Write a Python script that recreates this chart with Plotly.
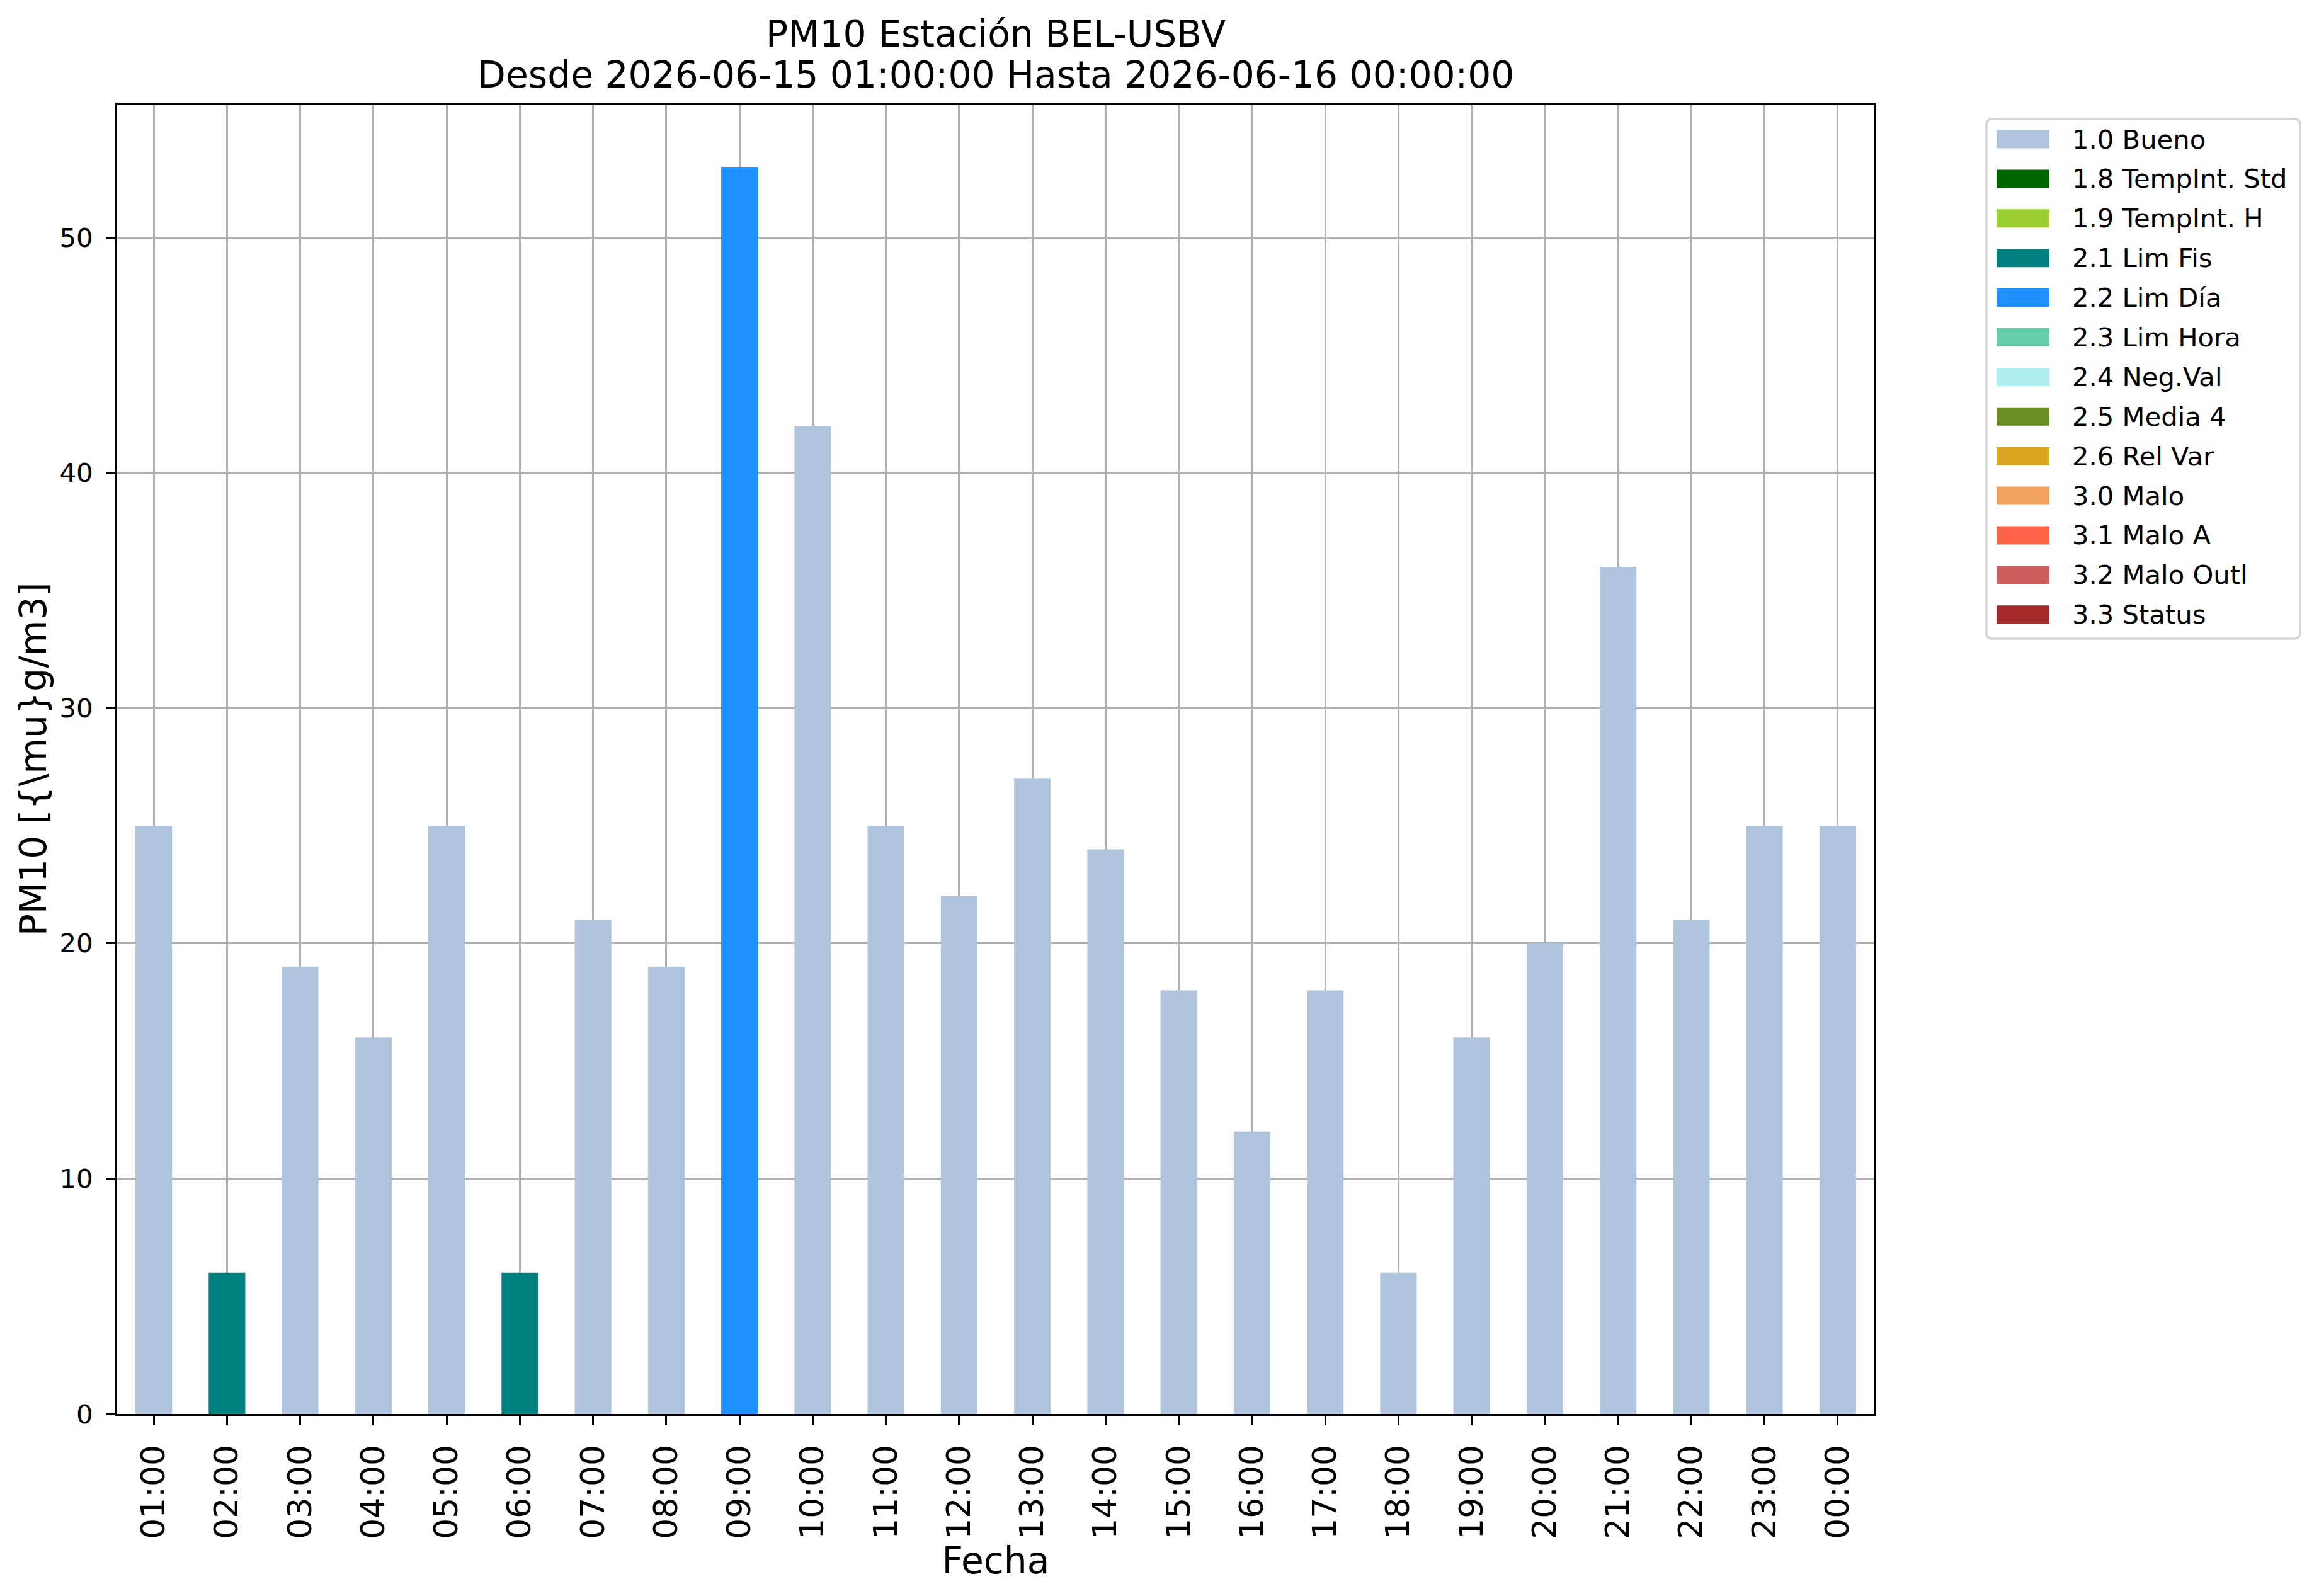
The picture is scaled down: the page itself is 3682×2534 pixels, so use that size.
import plotly.graph_objects as go

# datos
horas = ["01:00", "02:00", "03:00", "04:00", "05:00", "06:00", "07:00", "08:00",
         "09:00", "10:00", "11:00", "12:00", "13:00", "14:00", "15:00", "16:00",
         "17:00", "18:00", "19:00", "20:00", "21:00", "22:00", "23:00", "00:00"]
pm10 = [25, 6, 19, 16, 25, 6, 21, 19, 53, 42, 25, 22, 27, 24, 18, 12,
        18, 6, 16, 20, 36, 21, 25, 25]
flag = ["1.0 Bueno", "2.1 Lim Fis", "1.0 Bueno", "1.0 Bueno", "1.0 Bueno", "2.1 Lim Fis",
        "1.0 Bueno", "1.0 Bueno", "2.2 Lim Día", "1.0 Bueno", "1.0 Bueno", "1.0 Bueno",
        "1.0 Bueno", "1.0 Bueno", "1.0 Bueno", "1.0 Bueno", "1.0 Bueno", "1.0 Bueno",
        "1.0 Bueno", "1.0 Bueno", "1.0 Bueno", "1.0 Bueno", "1.0 Bueno", "1.0 Bueno"]

categorias = ["1.0 Bueno", "1.8 TempInt. Std", "1.9 TempInt. H", "2.1 Lim Fis",
              "2.2 Lim Día", "2.3 Lim Hora", "2.4 Neg.Val", "2.5 Media 4",
              "2.6 Rel Var", "3.0 Malo", "3.1 Malo A", "3.2 Malo Outl", "3.3 Status"]
colores = ["#B0C4DE", "#006400", "#9ACD32", "#008080", "#1E90FF", "#66CDAA",
           "#AFEEEE", "#6B8E23", "#DAA520", "#F4A460", "#FF6347", "#CD5C5C", "#A52A2A"]

titulo1 = "PM10 Estación BEL-USBV"
titulo2 = "Desde 2026-06-15 01:00:00 Hasta 2026-06-16 00:00:00"

FONT = "DejaVu Sans"
W, H = 3682, 2534
OFF = 8  # margen por defecto del body del html
# caja de los ejes en pixeles (de la pantalla)
L, R, T, B = 186.2, 2976, 166, 2245


def px_x(p):
    return (p - L) / (R - L)


def px_y(p):
    return (B - p) / (B - T)


fig = go.Figure()

for cat, col in zip(categorias, colores):
    vals = [v if f == cat else None for v, f in zip(pm10, flag)]
    fig.add_trace(go.Bar(x=horas, y=vals, name=cat, marker_color=col,
                         marker_line_width=0, width=0.5, showlegend=False))

shapes = []
annotations = []

# leyenda dibujada a mano (estilo matplotlib)
lx0, lx1, ly0, ly1, rad = 3154, 3652, 189, 1014, 9
rx, ry = rad / (R - L), rad / (B - T)
x0, x1, y0, y1 = px_x(lx0), px_x(lx1), px_y(ly1), px_y(ly0)
path = (f"M{x0 + rx},{y0} L{x1 - rx},{y0} Q{x1},{y0} {x1},{y0 + ry} "
        f"L{x1},{y1 - ry} Q{x1},{y1} {x1 - rx},{y1} L{x0 + rx},{y1} "
        f"Q{x0},{y1} {x0},{y1 - ry} L{x0},{y0 + ry} Q{x0},{y0} {x0 + rx},{y0} Z")
shapes.append(dict(type="path", xref="paper", yref="paper", path=path,
                   fillcolor="white", line=dict(color="#d6d6d6", width=3.5)))

for i, (cat, col) in enumerate(zip(categorias, colores)):
    yc = 221 + 62.9 * i
    shapes.append(dict(type="rect", xref="paper", yref="paper",
                       x0=px_x(3170), x1=px_x(3254), y0=px_y(yc + 14.5), y1=px_y(yc - 14.5),
                       fillcolor=col, line=dict(width=0)))
    annotations.append(dict(text=cat, xref="paper", yref="paper", x=px_x(3288), y=px_y(yc),
                            xanchor="left", yanchor="middle", showarrow=False,
                            font=dict(family=FONT, size=41.7, color="black")))

# titulo en dos lineas
for txt, yc in [(titulo1, 54), (titulo2, 119)]:
    annotations.append(dict(text=txt, xref="paper", yref="paper", x=0.5, y=px_y(yc),
                            xanchor="center", yanchor="middle", showarrow=False,
                            font=dict(family=FONT, size=58.3, color="black")))

fig.update_layout(
    width=W - OFF, height=H - OFF,
    margin=dict(l=L - OFF, r=W - R, t=T - OFF, b=H - B, autoexpand=False),
    paper_bgcolor="white", plot_bgcolor="white",
    barmode="relative",
    bargap=0.5,
    font=dict(family=FONT, color="black"),
    shapes=shapes,
    annotations=annotations,
)

fig.update_xaxes(
    type="category", range=[-0.5, 23.5],
    showgrid=True, gridcolor="#b0b0b0", gridwidth=3.3,
    showline=True, linecolor="black", linewidth=3.3, mirror=True,
    ticks="outside", ticklen=15, tickwidth=3.3, tickcolor="black",
    tickangle=-90, tickfont=dict(family=FONT, size=52, color="black"),
    ticklabelstandoff=10,
    title=dict(text="Fecha", font=dict(family=FONT, size=58.3, color="black"), standoff=0),
    layer="above traces",
)
fig.update_yaxes(
    range=[0, 55.65], tickvals=[0, 10, 20, 30, 40, 50],
    showgrid=True, gridcolor="#b0b0b0", gridwidth=3.3, zeroline=False,
    showline=True, linecolor="black", linewidth=3.3, mirror=True,
    ticks="outside", ticklen=15, tickwidth=3.3, tickcolor="black",
    tickfont=dict(family=FONT, size=41.7, color="black"),
    ticklabelstandoff=12,
    title=dict(text="PM10 [{\\mu}g/m3]", font=dict(family=FONT, size=58.3, color="black"), standoff=3),
    layer="above traces",
)

fig.write_html("out.html")
